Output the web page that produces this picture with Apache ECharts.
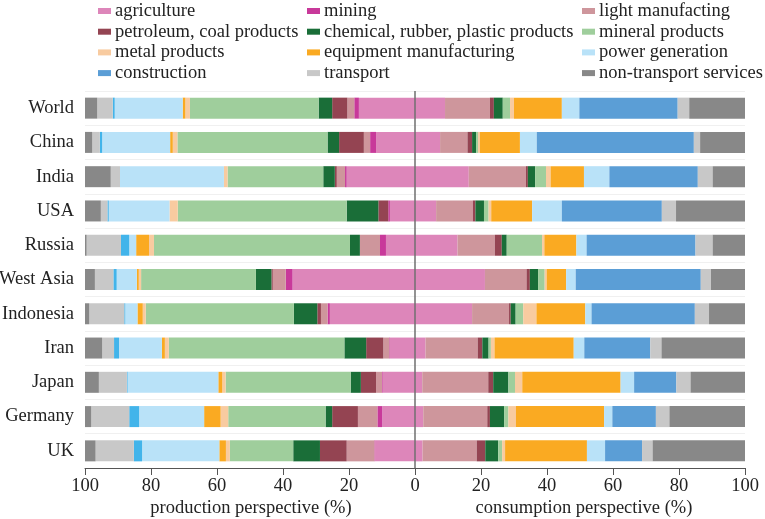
<!DOCTYPE html>
<html>
<head>
<meta charset="utf-8">
<script src="https://cdn.jsdelivr.net/npm/echarts@6/dist/echarts.min.js"></script>
<style>html,body{margin:0;padding:0;background:#fff;}#c{width:765px;height:519px;}</style>
</head>
<body>
<div id="c"></div>
<script>
// ---- data ----
const countries = ['World','China','India','USA','Russia','West Asia','Indonesia','Iran','Japan','Germany','UK'];
const sectors = ['agriculture','mining','light manufacting','petroleum, coal products','chemical, rubber, plastic products','mineral products','metal products','equipment manufacturing','power generation','construction','transport','non-transport services'];
const xTicks = [-100,-80,-60,-40,-20,0,20,40,60,80,100];
const xTitles = ['production perspective (%)','consumption perspective (%)'];

// production perspective (%), per sector, countries in order above
const prodAgriculture = [17.0, 11.8, 20.7, 7.6, 8.8, 37.1, 25.8, 7.6, 9.8, 9.9, 12.1];
const prodMining      = [1.4, 1.8, 0.5, 0.5, 1.8, 2.1, 0.7, 0.2, 0.2, 1.5, 0.2];
const prodLight       = [2.1, 1.9, 2.5, 0, 6.1, 3.9, 2.0, 1.8, 1.8, 5.9, 8.4];
const prodPetroleum   = [4.6, 7.5, 0.6, 3.0, 0, 0.4, 1.1, 5.2, 4.6, 7.8, 8.1];
const prodChemical    = [4.1, 3.5, 3.5, 9.6, 3.0, 4.7, 7.1, 6.6, 3.1, 2.0, 8.1];
const prodMineral     = [39.0, 45.5, 29.0, 51.2, 59.4, 34.8, 44.9, 53.2, 37.9, 29.5, 19.2];
const prodMetal       = [1.4, 1.4, 1.1, 2.5, 1.5, 0.7, 0.9, 1.2, 1.0, 2.3, 1.2];
const prodEquipment   = [0.8, 0.8, 0, 0, 3.9, 0.6, 1.6, 0.9, 1.2, 5.0, 2.0];
const prodPower       = [20.6, 20.6, 31.5, 18.4, 2.1, 6.1, 3.7, 13.0, 27.5, 19.7, 23.4];
const prodConstruction= [0.6, 0.7, 0, 0.4, 2.5, 1.0, 0.3, 1.5, 0.2, 3.0, 2.5];
const prodTransport   = [4.7, 2.3, 2.8, 2.0, 10.4, 5.6, 10.6, 3.6, 8.5, 11.5, 11.6];
const prodServices    = [3.7, 2.2, 7.8, 4.8, 0.5, 3.0, 1.3, 5.2, 4.2, 1.9, 3.2];

// consumption perspective (%)
const consAgriculture = [9.1, 7.6, 16.3, 6.4, 12.9, 21.2, 17.3, 3.2, 2.2, 2.5, 2.3];
const consMining      = [0, 0, 0, 0, 0, 0, 0, 0, 0, 0, 0];
const consLight       = [13.6, 8.3, 17.3, 11.1, 11.3, 12.6, 11.2, 15.8, 20.0, 19.4, 16.4];
const consPetroleum   = [1.2, 1.4, 0.6, 0.8, 2.1, 1.0, 0.5, 1.4, 1.5, 0.8, 2.6];
const consChemical    = [2.7, 1.2, 2.2, 2.6, 1.5, 2.5, 1.5, 1.9, 4.6, 4.3, 3.9];
const consMineral     = [2.2, 0.6, 3.3, 1.4, 10.7, 2.0, 2.3, 0.7, 2.0, 1.3, 1.2];
const consMetal       = [1.2, 0.6, 1.4, 0.8, 0.7, 0.6, 4.0, 1.1, 2.2, 2.3, 0.9];
const consEquipment   = [14.5, 12.1, 10.1, 12.4, 9.7, 5.9, 14.8, 24.0, 29.8, 26.7, 24.8];
const consPower       = [5.3, 5.1, 7.7, 9.0, 3.1, 2.9, 1.9, 3.2, 4.1, 2.5, 5.5];
const consConstruction= [29.8, 47.6, 26.8, 30.3, 33.0, 37.9, 31.3, 20.0, 12.8, 13.2, 11.2];
const consTransport   = [3.5, 1.9, 4.5, 4.3, 5.2, 3.1, 4.3, 3.4, 4.3, 4.1, 3.2];
const consServices    = [16.9, 13.6, 9.8, 20.9, 9.8, 10.3, 10.9, 25.3, 16.5, 22.9, 28.0];

const prodData = [prodAgriculture, prodMining, prodLight, prodPetroleum, prodChemical, prodMineral, prodMetal, prodEquipment, prodPower, prodConstruction, prodTransport, prodServices];
const consData = [consAgriculture, consMining, consLight, consPetroleum, consChemical, consMineral, consMetal, consEquipment, consPower, consConstruction, consTransport, consServices];

// ---- styles ----
const colors = ['#DD86BA','#C8399A','#CE969C','#944452','#1A6E38','#9FCE9C','#F8CBA0','#FAAA22','#B9E2F8','#5B9ED6','#C8C8C8','#888888'];
const prodColors = colors.slice(); prodColors[9] = '#42B4EA';
const FONT = 'Liberation Serif';

const series = [];
sectors.forEach((s, i) => {
  series.push({
    name: s, type: 'bar', stack: 'all', barWidth: 21,
    data: consData[i], itemStyle: { color: colors[i] }, silent: true
  });
});
sectors.forEach((s, i) => {
  series.push({
    name: s, type: 'bar', stack: 'all', barWidth: 21,
    data: prodData[i].map(v => -v), itemStyle: { color: prodColors[i] }, silent: true
  });
});
series[0].markLine = {
  silent: true, symbol: 'none', z: 10,
  label: { show: false },
  lineStyle: { color: '#6f6f6f', width: 1.5, type: 'solid' },
  data: [{ xAxis: 0 }]
};

function legendCol(left, items) {
  return {
    orient: 'vertical', left: left, top: 1, itemWidth: 13, itemHeight: 6, itemGap: 0.7,
    icon: 'rect', selectedMode: false, padding: 0,
    data: items,
    textStyle: { fontFamily: FONT, fontSize: 18.5, color: '#222', lineHeight: 20, padding: [0,0,0,-1] }
  };
}

const chart = echarts.init(document.getElementById('c'), null, { renderer: 'canvas' });
chart.setOption({
  animation: false,
  textStyle: { fontFamily: FONT },
  legend: [
    legendCol(98, [sectors[0], sectors[3], sectors[6], sectors[9]]),
    legendCol(307, [sectors[1], sectors[4], sectors[7], sectors[10]]),
    legendCol(582, [sectors[2], sectors[5], sectors[8], sectors[11]])
  ],
  grid: { left: 85, right: 20, top: 91, bottom: 51, containLabel: false, outerBoundsMode: 'none' },
  xAxis: {
    type: 'value', min: xTicks[0], max: xTicks[xTicks.length - 1], interval: 20,
    axisLine: { show: true, lineStyle: { color: '#555', width: 1 } },
    axisTick: { show: true, length: 7, lineStyle: { color: '#555' } },
    splitLine: { show: false },
    axisLabel: { formatter: v => String(Math.abs(v)), fontFamily: FONT, fontSize: 18.5, color: '#222', margin: 9 }
  },
  yAxis: {
    type: 'category', data: countries, inverse: true,
    axisLine: { show: false }, axisTick: { show: false },
    splitLine: { show: true, lineStyle: { color: '#f0f0f0', width: 1 } },
    axisLabel: { fontFamily: FONT, fontSize: 18.5, color: '#222', margin: 11 }
  },
  graphic: [
    { type: 'text', x: 251, y: 508, style: { text: xTitles[0], fontFamily: FONT, fontSize: 18.5, fill: '#222', align: 'center', verticalAlign: 'middle' } },
    { type: 'text', x: 584, y: 508, style: { text: xTitles[1], fontFamily: FONT, fontSize: 18.5, fill: '#222', align: 'center', verticalAlign: 'middle' } }
  ],
  series: series
});
</script>
</body>
</html>
